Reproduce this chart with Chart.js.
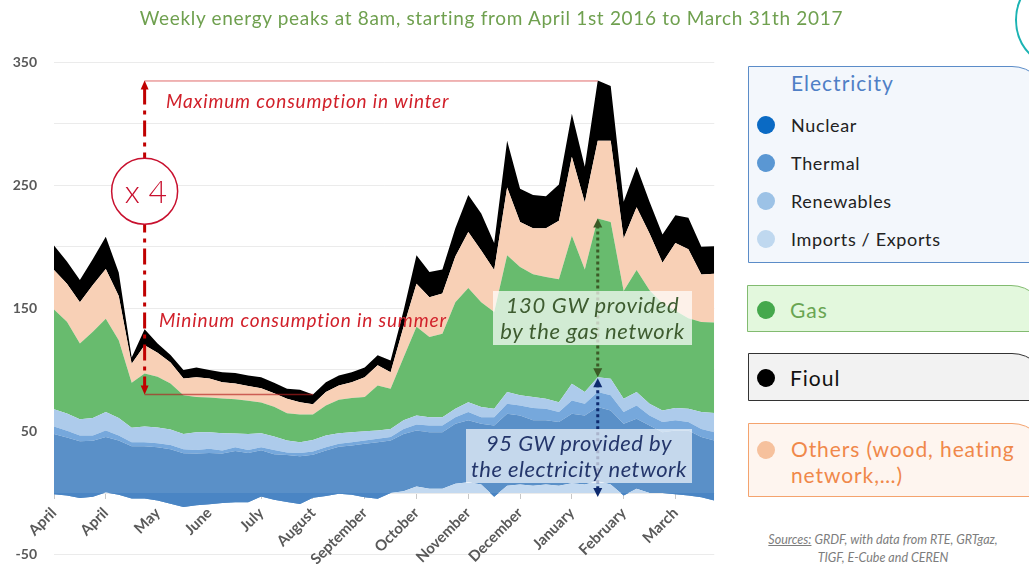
<!DOCTYPE html>
<html><head><meta charset="utf-8">
<script src="https://cdn.jsdelivr.net/npm/chart.js@4.4.0/dist/chart.umd.min.js"></script>
<style>
html,body{margin:0;padding:0;width:1029px;height:570px;overflow:hidden;background:#fff;font-family:Lato,'Open Sans',sans-serif;}
#wrap{position:absolute;left:0;top:0;width:732px;height:580px;z-index:1;}
.abs{position:absolute;white-space:nowrap;z-index:2;}
.box{position:absolute;box-sizing:border-box;border:1.5px solid;border-radius:0 36px 0 0;z-index:2;}
.dot{position:absolute;width:18px;height:18px;border-radius:50%;z-index:3;}
.leg{position:absolute;white-space:nowrap;z-index:3;line-height:24px;}
.note{position:absolute;z-index:4;box-sizing:border-box;font-style:italic;text-align:center;white-space:nowrap;}
.red{position:absolute;z-index:4;color:#d1202a;font-style:italic;font-size:19px;line-height:22px;white-space:nowrap;letter-spacing:0.85px;}
</style></head>
<body>
<div class="abs" style="left:0;top:6px;width:983px;text-align:center;font-size:19px;letter-spacing:0.68px;line-height:24px;color:#6fa04f;">Weekly energy peaks at 8am, starting from April 1st 2016 to March 31th 2017</div>
<div style="position:absolute;left:1015px;top:-30px;width:100px;height:100px;border:2px solid #1bb3b3;border-radius:50%;box-sizing:border-box;"></div>

<div id="wrap"><canvas id="c" width="732" height="580"></canvas></div>

<div class="red" style="left:166px;top:90px;">Maximum consumption in winter</div>
<div class="red" style="left:159px;top:309px;">Mininum consumption in summer</div>
<div class="abs" style="left:106px;top:173px;width:80px;text-align:center;font-size:32px;line-height:36px;color:#c8102e;font-weight:300;z-index:5;">x 4</div>

<div class="note" style="left:493px;top:291px;width:199px;height:54px;background:rgba(255,255,255,0.7);color:#3e5c30;font-size:22px;letter-spacing:0.7px;line-height:26px;padding-top:1px;">130 GW provided<br>by the gas network</div>
<div class="note" style="left:466px;top:429px;width:226px;height:54px;background:rgba(255,255,255,0.65);color:#24366b;font-size:22px;letter-spacing:0.5px;line-height:26px;padding-top:1px;">95 GW provided by<br>the electricity network</div>

<div class="box" style="left:748px;top:66px;width:300px;height:197px;border-color:#5b8cc8;background:#f3f7fc;"></div>
<div class="leg" style="left:791px;top:71px;font-size:21px;letter-spacing:1px;color:#4f7fc6;">Electricity</div>
<div class="dot" style="left:757px;top:116px;background:#0a6ac4;"></div>
<div class="leg" style="left:791px;top:113px;font-size:18px;letter-spacing:0.65px;color:#222;">Nuclear</div>
<div class="dot" style="left:757px;top:154px;background:#5a97d3;"></div>
<div class="leg" style="left:791px;top:151px;font-size:18px;letter-spacing:0.65px;color:#222;">Thermal</div>
<div class="dot" style="left:757px;top:192px;background:#9cc2e6;"></div>
<div class="leg" style="left:791px;top:189px;font-size:18px;letter-spacing:0.65px;color:#222;">Renewables</div>
<div class="dot" style="left:757px;top:230px;background:#bfd8ef;"></div>
<div class="leg" style="left:791px;top:227px;font-size:18px;letter-spacing:0.65px;color:#222;">Imports / Exports</div>

<div class="box" style="left:747px;top:285px;width:300px;height:47px;border-color:#82bb70;background:#e3f8dd;"></div>
<div class="dot" style="left:757px;top:301px;background:#45a84c;"></div>
<div class="leg" style="left:790px;top:298px;font-size:21px;letter-spacing:1px;color:#69a552;">Gas</div>

<div class="box" style="left:748px;top:353px;width:300px;height:48px;border-color:#333;background:#f2f2f2;"></div>
<div class="dot" style="left:757px;top:369px;background:#000;"></div>
<div class="leg" style="left:790px;top:366px;font-size:21px;letter-spacing:1px;color:#111;">Fioul</div>

<div class="box" style="left:748px;top:423px;width:300px;height:74px;border-color:#f4a36e;background:#fef5ef;"></div>
<div class="dot" style="left:757px;top:441px;background:#f6c19d;"></div>
<div class="leg" style="left:791px;top:436px;font-size:21px;letter-spacing:0.9px;color:#f0884a;line-height:26px;">Others (wood, heating<br>network,…)</div>

<div class="abs" style="left:752px;top:531px;width:262px;text-align:center;font-size:12.5px;line-height:17.5px;font-style:italic;color:#7d7d7d;"><u>Sources:</u> GRDF, with data from RTE, GRTgaz,<br>TIGF, E-Cube and CEREN</div>

<script>
// ---- data (GW, weekly 8am peaks, April 2016 -> March 2017) ----
const monthTicks = ['April','April','May','June','July','August','September','October','November','December','January','February','March'];
const imports    = [-1,-2,-4,-3,0.5,-1.5,-4.5,-4.5,-6,-8.7,-11.4,-10,-9.2,-8.1,-7.4,-7.4,-2.8,-5.4,-7.3,-9,-3.8,-2.5,-0.5,-1.5,-3.4,-4.7,0,1.5,5.3,3.4,3.4,7.5,8.8,6.9,-3,6,7,6,7,6,8,7,9.6,7,-2,3.4,0,0,-1,-2,-3.4,-6];
const nuclear    = [49,47,46,45.5,45,44.2,42.5,42.5,43.2,44.2,43.7,42,41.6,40.1,41.6,39.8,37.6,36.9,38.1,38.8,34.8,37,38,40.1,43.4,46,42.7,46.5,45.5,46,46,48.8,50.2,49.4,57.9,58.4,56,53,52,51.6,56.4,56,60.2,60,58.3,56.9,54.9,49.4,51.8,52.8,48.8,48.7];
const thermal    = [6,5.5,4.7,4.2,5.3,4,3.3,3.3,3.3,3.5,3.2,3,3.5,2.5,3,2.6,2.4,3.5,2.2,2.8,2.8,2.7,2.5,2.7,2.7,2.7,2.7,4,4.9,5.5,5.5,5.3,6.7,5.3,6.7,8.1,8,10,9.5,8.1,10.8,9.5,12.2,12.3,9.4,10.7,8.1,8.2,8.2,6.8,6.6,6.7];
const renewables = [14,14,13.3,14.3,14.9,14.3,11.7,12.7,12.8,12.5,12.5,14.3,13.5,14.1,11.1,13,11.4,11,9.7,8.7,9.2,9.5,8.6,8.1,7.5,6.8,6.6,7,7.3,6.7,6.7,6.9,8.1,8.2,6.9,9.5,8.3,9,8.1,8.1,13.6,9.5,12,13.5,10.9,11,9.5,9.4,10,10.9,13.7,15.5];
const gas        = [81,74.5,61.5,70,75.8,63,36.5,43,41.2,37.5,31.3,28.7,28.1,28.1,27.9,27,24.9,24,22,22.5,20.8,24.3,27.2,27.8,27.7,36.6,32.7,51,72,65.1,67.8,86.5,92.7,85.2,78.5,111,104.3,99.6,98.9,99.8,120.2,99.5,129,127.2,87.4,99,92.1,86.8,79,73.5,73.2,73.5];
const others     = [32,31,33.5,38,40.5,36,15.5,23,19.5,17,13.7,16,15.5,13.3,12.8,12,11.5,11,11.9,10,8.2,11,11.6,12.8,16.1,16.3,13.3,25,35,32.3,32.6,37,45.5,42,34,55,36.4,37.4,39.5,47.4,64,54.5,63,66,42.7,51,46.1,33.2,55,56,38.6,39.6];
const fioul      = [20,18,18,21,26,19,5,13,7.5,6,7,8,7,8,8.4,8.5,9,8.5,8.1,10.1,8,8,8.1,8,8,8.1,9.7,13,23,20.5,19.5,23,30,30,22,38,27,27,26,29.5,35,29,49,44.5,29.8,33,25.8,23,22.6,25.5,22.5,22.4];
const weekLabels = imports.map((_, i) => (i % 4 === 0 ? monthTicks[i / 4] : ''));
const arrowWeek = 7;   // week where the winter/summer arrow is drawn
const gasWeek = 42;    // week of the annotated peak

const series = [
  {label:'Imports / Exports', data:imports, color:'#c3d9f0', below:'#4a85c4'},
  {label:'Nuclear', data:nuclear, color:'#5a90c8'},
  {label:'Thermal', data:thermal, color:'#76a8dc'},
  {label:'Renewables', data:renewables, color:'#adcbeb'},
  {label:'Gas', data:gas, color:'#68bb6e'},
  {label:'Others', data:others, color:'#f8d0b6'},
  {label:'Fioul', data:fioul, color:'#000000'}
];

const datasets = series.map((s, k) => ({
  label: s.label,
  data: s.data,
  backgroundColor: s.color,
  borderColor: 'rgba(0,0,0,0)',
  borderWidth: 0,
  pointRadius: 0,
  pointHoverRadius: 0,
  tension: 0,
  fill: k === 0 ? {target:'origin', above:s.color, below:s.below} : '-1'
}));

function arrowHead(ctx, x, y, dir, w, h, color) {
  ctx.save();
  ctx.fillStyle = color;
  ctx.beginPath();
  ctx.moveTo(x, y);
  ctx.lineTo(x - w / 2, y - dir * h);
  ctx.lineTo(x + w / 2, y - dir * h);
  ctx.closePath();
  ctx.fill();
  ctx.restore();
}
function vline(ctx, x, y1, y2, color, width, dash) {
  ctx.save();
  ctx.strokeStyle = color; ctx.lineWidth = width; ctx.setLineDash(dash);
  ctx.beginPath(); ctx.moveTo(x, y1); ctx.lineTo(x, y2); ctx.stroke();
  ctx.restore();
}

const annotPlugin = {
  id: 'annot',
  afterDatasetsDraw(chart) {
    const {ctx, scales: {x, y}} = chart;
    const totals = imports.map((_, i) => series.reduce((a, s) => a + s.data[i], 0));
    const maxV = Math.max(...totals), minV = Math.min(...totals);
    const maxI = totals.indexOf(maxV), minI = totals.indexOf(minV);
    const ax = x.getPixelForValue(arrowWeek);
    const yMax = y.getPixelForValue(maxV), yMin = y.getPixelForValue(minV);
    ctx.save();
    ctx.strokeStyle = '#e06a6a'; ctx.lineWidth = 1;
    ctx.beginPath(); ctx.moveTo(ax, yMax + 0.5); ctx.lineTo(x.getPixelForValue(maxI), yMax + 0.5); ctx.stroke();
    ctx.strokeStyle = 'rgba(180,30,30,0.65)'; ctx.lineWidth = 1.5;
    ctx.beginPath(); ctx.moveTo(ax, yMin); ctx.lineTo(x.getPixelForValue(minI), yMin); ctx.stroke();
    ctx.restore();
    vline(ctx, ax, yMax + 8, yMin - 8, '#c00000', 3, [16, 6, 4, 6]);
    arrowHead(ctx, ax, yMax, -1, 8, 9, '#c00000');
    arrowHead(ctx, ax, yMin, 1, 8, 9, '#c00000');
    const cy = y.getPixelForValue(245);
    ctx.save();
    ctx.fillStyle = '#ffffff'; ctx.strokeStyle = '#c8102e'; ctx.lineWidth = 1.5;
    ctx.beginPath(); ctx.arc(ax, cy, 33, 0, Math.PI * 2); ctx.fill(); ctx.stroke();
    ctx.restore();
    const gx = x.getPixelForValue(gasWeek);
    const cumR = imports[gasWeek] + nuclear[gasWeek] + thermal[gasWeek] + renewables[gasWeek];
    const cumG = cumR + gas[gasWeek];
    const yG = y.getPixelForValue(cumG), yR = y.getPixelForValue(cumR), y0 = y.getPixelForValue(0) + 4;
    vline(ctx, gx, yG + 7, yR - 7, '#3b5a26', 3, [3, 3]);
    arrowHead(ctx, gx, yG, -1, 9, 9, '#3b5a26');
    arrowHead(ctx, gx, yR, 1, 9, 9, '#3b5a26');
    vline(ctx, gx, yR + 7, y0 - 7, '#0e2a6e', 3, [3, 3]);
    arrowHead(ctx, gx, yR + 1, -1, 9, 9, '#0e2a6e');
    arrowHead(ctx, gx, y0, 1, 9, 9, '#0e2a6e');
  }
};

new Chart(document.getElementById('c'), {
  type: 'line',
  data: {labels: weekLabels, datasets},
  options: {
    responsive: false,
    animation: false,
    layout: {padding: {top: 62, bottom: 6, left: 0, right: 6}},
    plugins: {legend: {display: false}, tooltip: {enabled: false}},
    scales: {
      x: {
        type: 'category',
        position: {y: 0},
        z: 1,
        grid: {drawOnChartArea: false, drawTicks: true, tickLength: 6,
               color: c => (c.index % 4 === 0 ? '#c8c8c8' : 'rgba(0,0,0,0)')},
        border: {display: false},
        ticks: {autoSkip: false, maxRotation: 45, minRotation: 45, padding: 5,
                color: '#595959', font: {family: 'Lato', weight: 'bold', size: 15},
                callback: (v, i) => weekLabels[i]}
      },
      y: {
        stacked: 'single',
        min: -50, max: 350,
        afterFit: s => { s.width = 54; },
        grid: {color: '#ebebeb', drawTicks: false},
        border: {display: false},
        ticks: {stepSize: 50, padding: 17, color: '#595959',
                font: {family: 'Lato', weight: 'bold', size: 14},
                callback: v => (((v + 50) % 100 === 0) ? v : '')}
      }
    }
  },
  plugins: [annotPlugin]
});
</script>
</body></html>
